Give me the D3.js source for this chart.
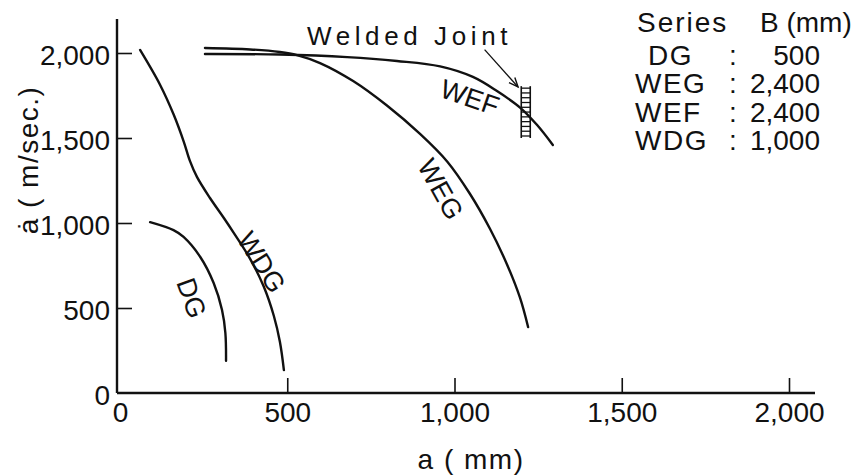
<!DOCTYPE html>
<html><head><meta charset="utf-8">
<script src="https://cdn.jsdelivr.net/npm/d3@7"></script>
<style>
body{margin:0;background:#fff}
text{font-family:"Liberation Sans",Arial,sans-serif;fill:#111}
</style>
</head><body>
<svg id="chart" width="859" height="476"></svg>
<script>
// ---- data (a in mm, a-dot in m/sec) ----
const xTicks = [0, 500, 1000, 1500, 2000];
const yTicks = [0, 500, 1000, 1500, 2000];
const seriesNames = ["DG", "WEG", "WEF", "WDG"];
const seriesB = ["500", "2,400", "2,400", "1,000"];

const dgPts  = [[90,1005],[160,958],[190,918],[240,800],[280,647],[305,488],[315,353],[317,190]];
const wdgPts = [[60,2018],[120,1812],[161,1635],[191,1476],[209,1365],[230,1271],[269,1147],[311,1028],[341,939],[389,789],[430,625],[460,453],[478,301],[490,135]];
const wegPts = [[254,2029],[389,2021],[478,2006],[529,1988],[598,1941],[697,1835],[798,1691],[897,1524],[978,1362],[1046,1172],[1106,966],[1157,756],[1196,559],[1220,388]];
const wefPts = [[254,1994],[478,1991],[679,1976],[828,1953],[957,1921],[1055,1859],[1127,1776],[1196,1679],[1247,1576],[1294,1459]];

const weldA = 1213, weldTop = 1805, weldBottom = 1500, weldRungs = 11;
const arrowFrom = [1090, 2020], arrowTo = [1190, 1800];

// ---- chart ----
const svg = d3.select("#chart");
const x = d3.scaleLinear().domain([0, 2000]).range([120, 789]);
const y = d3.scaleLinear().domain([0, 2000]).range([393, 53]);
const fmt = d3.format(",");
const ink = "#111";

// axes lines
svg.append("line").attr("x1",117).attr("x2",815).attr("y1",393).attr("y2",393)
  .attr("stroke",ink).attr("stroke-width",2.4);
svg.append("line").attr("x1",117).attr("x2",117).attr("y1",19).attr("y2",393)
  .attr("stroke",ink).attr("stroke-width",2.4);

const gx = svg.append("g").attr("transform","translate(0,393)")
  .call(d3.axisBottom(x).tickValues(xTicks).tickSize(-15).tickPadding(9).tickFormat(fmt));
const gy = svg.append("g").attr("transform","translate(117,0)")
  .call(d3.axisLeft(y).tickValues(yTicks).tickSize(-15).tickPadding(7).tickFormat(fmt));
[gx, gy].forEach(g => {
  g.select(".domain").remove();
  g.selectAll(".tick line").attr("stroke", ink).attr("stroke-width", 1.6)
    .filter(d => d === 0).remove();
  g.selectAll(".tick text").attr("font-size", 28).attr("fill", ink)
    .style("font-family", '"Liberation Sans",Arial,sans-serif');
});
gy.selectAll(".tick text").attr("dy", "0.42em");

// curves
const line = d3.line().x(d => x(d[0])).y(d => y(d[1])).curve(d3.curveCatmullRom.alpha(0.5));
[dgPts, wdgPts, wegPts, wefPts].forEach(pts => {
  svg.append("path").attr("d", line(pts)).attr("fill","none")
    .attr("stroke", ink).attr("stroke-width", 2.4).attr("stroke-linecap","round");
});

// welded joint ladder
const wx = x(weldA), wt = y(weldTop), wb = y(weldBottom);
svg.append("line").attr("x1",wx-4.5).attr("x2",wx-4.5).attr("y1",wt).attr("y2",wb).attr("stroke",ink).attr("stroke-width",1.6);
svg.append("line").attr("x1",wx+4.5).attr("x2",wx+4.5).attr("y1",wt).attr("y2",wb).attr("stroke",ink).attr("stroke-width",1.6);
d3.range(weldRungs).forEach(i => {
  const yy = wt + 2 + i * (wb - wt - 4) / (weldRungs - 1);
  svg.append("line").attr("x1",wx-4.5).attr("x2",wx+4.5).attr("y1",yy).attr("y2",yy).attr("stroke",ink).attr("stroke-width",1.3);
});

// arrow
const ax1 = x(arrowFrom[0]), ay1 = y(arrowFrom[1]), ax2 = x(arrowTo[0]), ay2 = y(arrowTo[1]);
svg.append("line").attr("x1",ax1).attr("y1",ay1).attr("x2",ax2).attr("y2",ay2).attr("stroke",ink).attr("stroke-width",1.3);
const ang = Math.atan2(ay2-ay1, ax2-ax1), hl = 10, hw = 0.4;
svg.append("path")
  .attr("d", `M${ax2-hl*Math.cos(ang-hw)},${ay2-hl*Math.sin(ang-hw)}L${ax2},${ay2}L${ax2-hl*Math.cos(ang+hw)},${ay2-hl*Math.sin(ang+hw)}`)
  .attr("fill","none").attr("stroke",ink).attr("stroke-width",1.4);

svg.append("text").attr("x",307).attr("y",45).attr("font-size",26).attr("letter-spacing",4.6).text("Welded Joint");

// curve labels
const labels = [
  {t:"WEF", x:470, y:97,  r:19},
  {t:"WEG", x:441, y:189, r:61},
  {t:"WDG", x:262, y:262, r:58},
  {t:"DG",  x:192, y:298, r:70}
];
labels.forEach(l => {
  svg.append("text").attr("transform", `translate(${l.x},${l.y}) rotate(${l.r})`)
    .attr("text-anchor","middle").attr("dy","0.36em").attr("font-size",27).text(l.t);
});

// axis titles
svg.append("text").attr("x",471).attr("y",469).attr("text-anchor","middle")
  .attr("font-size",28).attr("letter-spacing",1.5).text("a ( mm)");
svg.append("text").attr("transform","translate(38,160) rotate(-90)").attr("text-anchor","middle")
  .attr("font-size",28).attr("letter-spacing",1.5).text("ȧ ( m/sec.)");

// legend table
const lg = svg.append("g");
lg.append("text").attr("x",637).attr("y",32).attr("font-size",28).attr("letter-spacing",2).text("Series");
lg.append("text").attr("x",760).attr("y",32).attr("font-size",28).text("B (mm)");
const rowY = [65, 93, 122, 150];
seriesNames.forEach((n, i) => {
  lg.append("text").attr("x", i === 0 ? 648 : 635).attr("y", rowY[i]).attr("font-size",28).attr("letter-spacing",1.5).text(n);
  lg.append("text").attr("x",733).attr("y",rowY[i]).attr("text-anchor","middle").attr("font-size",28).text(":");
  lg.append("text").attr("x",820).attr("y",rowY[i]).attr("text-anchor","end").attr("font-size",28).text(seriesB[i]);
});
</script>
</body></html>
